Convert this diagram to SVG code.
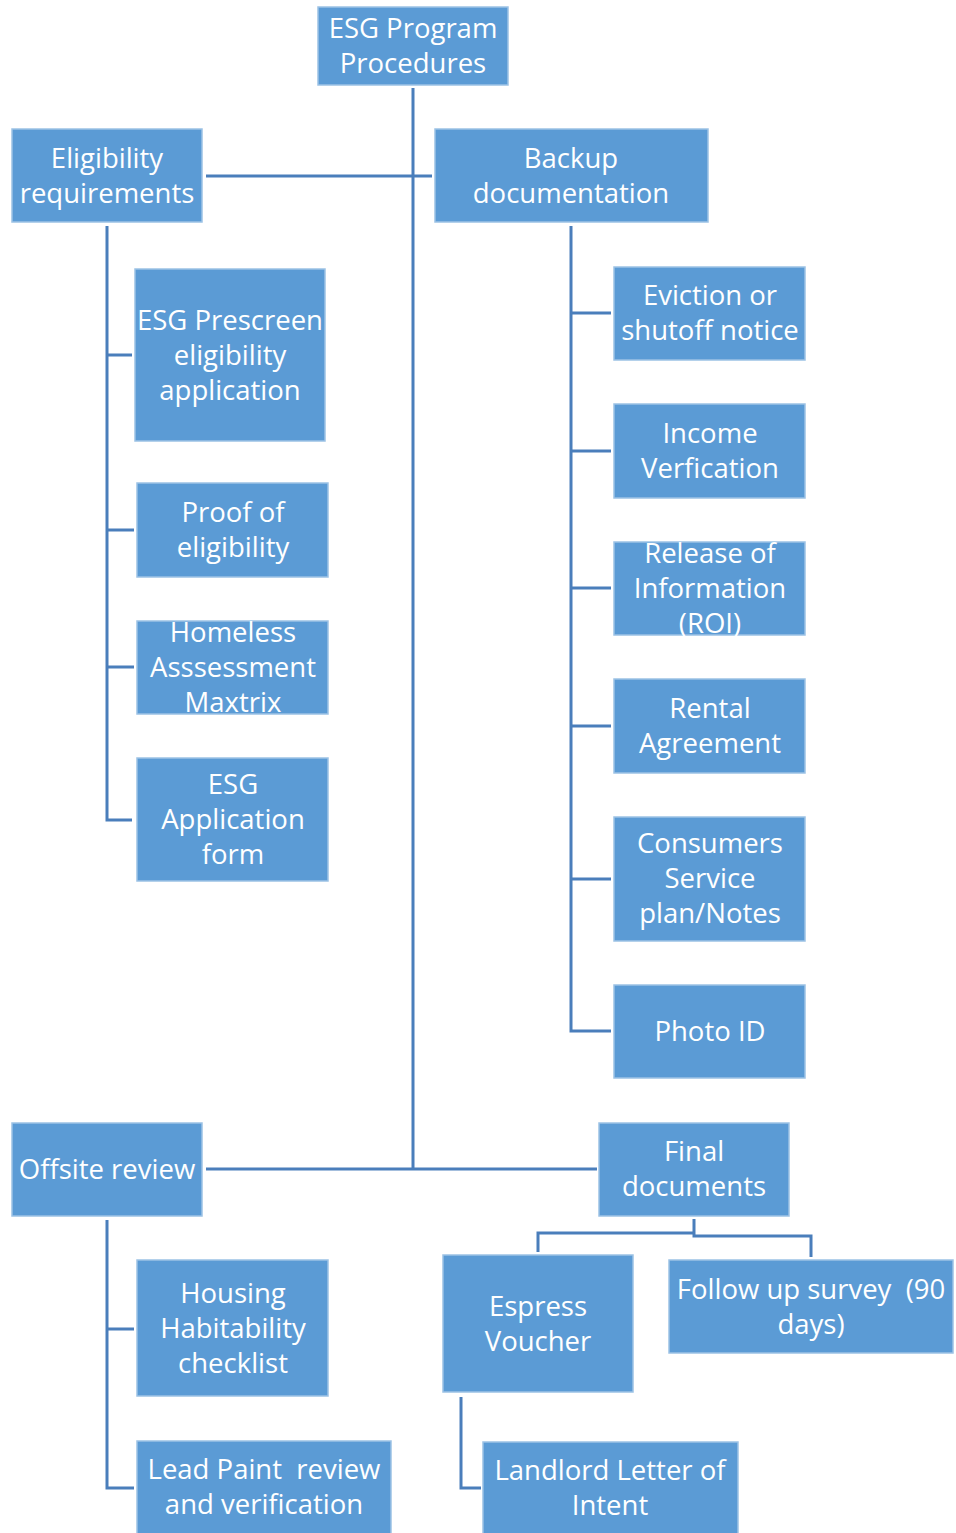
<svg xmlns="http://www.w3.org/2000/svg" width="956" height="1533" viewBox="0 0 956 1533">
<style>
.box{fill:#5B9BD5;stroke:#9CC2E5;stroke-width:1.5}
.t{font-family:"Open Sans","Liberation Sans",sans-serif;font-size:27.5px;fill:#ffffff;text-anchor:middle;white-space:pre}
.c{fill:none;stroke:#4A7EBB;stroke-width:3}
</style>
<rect width="956" height="1533" fill="#ffffff"/>
<g id="connectors">
<path class="c" d="M413 88V1170"/>
<path class="c" d="M206 176H432"/>
<path class="c" d="M107 226V820H132M107 355H132M107 530H134M107 667H134"/>
<path class="c" d="M571 226V1031H611M571 313H611M571 451H611M571 588H611M571 726H611M571 879H611"/>
<path class="c" d="M206 1169H597"/>
<path class="c" d="M107 1220V1488H134M107 1329H134"/>
<path class="c" d="M694 1219V1236H811V1257M694 1233H538V1252"/>
<path class="c" d="M461 1397V1488H481"/>
</g>
<g id="root"><rect class="box" x="318" y="7" width="190" height="78"/><text class="t" x="413" y="38">ESG Program</text><text class="t" x="413" y="73">Procedures</text></g>
<g id="eligibility"><rect class="box" x="12" y="129" width="190" height="93"/><text class="t" x="107" y="168">Eligibility</text><text class="t" x="107" y="203">requirements</text></g>
<g id="backup"><rect class="box" x="435" y="129" width="273" height="93"/><text class="t" x="571" y="168">Backup</text><text class="t" x="571" y="203">documentation</text></g>
<g id="prescreen"><rect class="box" x="135" y="269" width="190" height="172"/><text class="t" x="230" y="330">ESG Prescreen</text><text class="t" x="230" y="365">eligibility</text><text class="t" x="230" y="400">application</text></g>
<g id="proof"><rect class="box" x="137" y="483" width="191" height="94"/><text class="t" x="233" y="522">Proof of</text><text class="t" x="233" y="557">eligibility</text></g>
<g id="homeless"><rect class="box" x="137" y="621" width="191" height="93"/><text class="t" x="233" y="642">Homeless</text><text class="t" x="233" y="677">Asssessment</text><text class="t" x="233" y="712">Maxtrix</text></g>
<g id="esgapp"><rect class="box" x="137" y="758" width="191" height="123"/><text class="t" x="233" y="794">ESG</text><text class="t" x="233" y="829">Application</text><text class="t" x="233" y="864">form</text></g>
<g id="eviction"><rect class="box" x="614" y="267" width="191" height="93"/><text class="t" x="710" y="305">Eviction or</text><text class="t" x="710" y="340">shutoff notice</text></g>
<g id="income"><rect class="box" x="614" y="404" width="191" height="94"/><text class="t" x="710" y="443">Income</text><text class="t" x="710" y="478">Verfication</text></g>
<g id="roi"><rect class="box" x="614" y="542" width="191" height="93"/><text class="t" x="710" y="563">Release of</text><text class="t" x="710" y="598">Information</text><text class="t" x="710" y="633">(ROI)</text></g>
<g id="rental"><rect class="box" x="614" y="679" width="191" height="94"/><text class="t" x="710" y="718">Rental</text><text class="t" x="710" y="753">Agreement</text></g>
<g id="consumers"><rect class="box" x="614" y="817" width="191" height="124"/><text class="t" x="710" y="853">Consumers</text><text class="t" x="710" y="888">Service</text><text class="t" x="710" y="923">plan/Notes</text></g>
<g id="photoid"><rect class="box" x="614" y="985" width="191" height="93"/><text class="t" x="710" y="1041">Photo ID</text></g>
<g id="offsite"><rect class="box" x="12" y="1123" width="190" height="93"/><text class="t" x="107" y="1179">Offsite review</text></g>
<g id="final"><rect class="box" x="599" y="1123" width="190" height="93"/><text class="t" x="694" y="1161">Final</text><text class="t" x="694" y="1196">documents</text></g>
<g id="housing"><rect class="box" x="137" y="1260" width="191" height="136"/><text class="t" x="233" y="1303">Housing</text><text class="t" x="233" y="1338">Habitability</text><text class="t" x="233" y="1373">checklist</text></g>
<g id="leadpaint"><rect class="box" x="137" y="1441" width="254" height="100"/><text class="t" x="264" y="1479">Lead Paint  review</text><text class="t" x="264" y="1514">and verification</text></g>
<g id="voucher"><rect class="box" x="443" y="1255" width="190" height="137"/><text class="t" x="538" y="1316">Espress</text><text class="t" x="538" y="1351">Voucher</text></g>
<g id="followup"><rect class="box" x="669" y="1260" width="284" height="93"/><text class="t" x="811" y="1299">Follow up survey  (90</text><text class="t" x="811" y="1334">days)</text></g>
<g id="landlord"><rect class="box" x="483" y="1442" width="255" height="100"/><text class="t" x="610" y="1480">Landlord Letter of</text><text class="t" x="610" y="1515">Intent</text></g>
</svg>
